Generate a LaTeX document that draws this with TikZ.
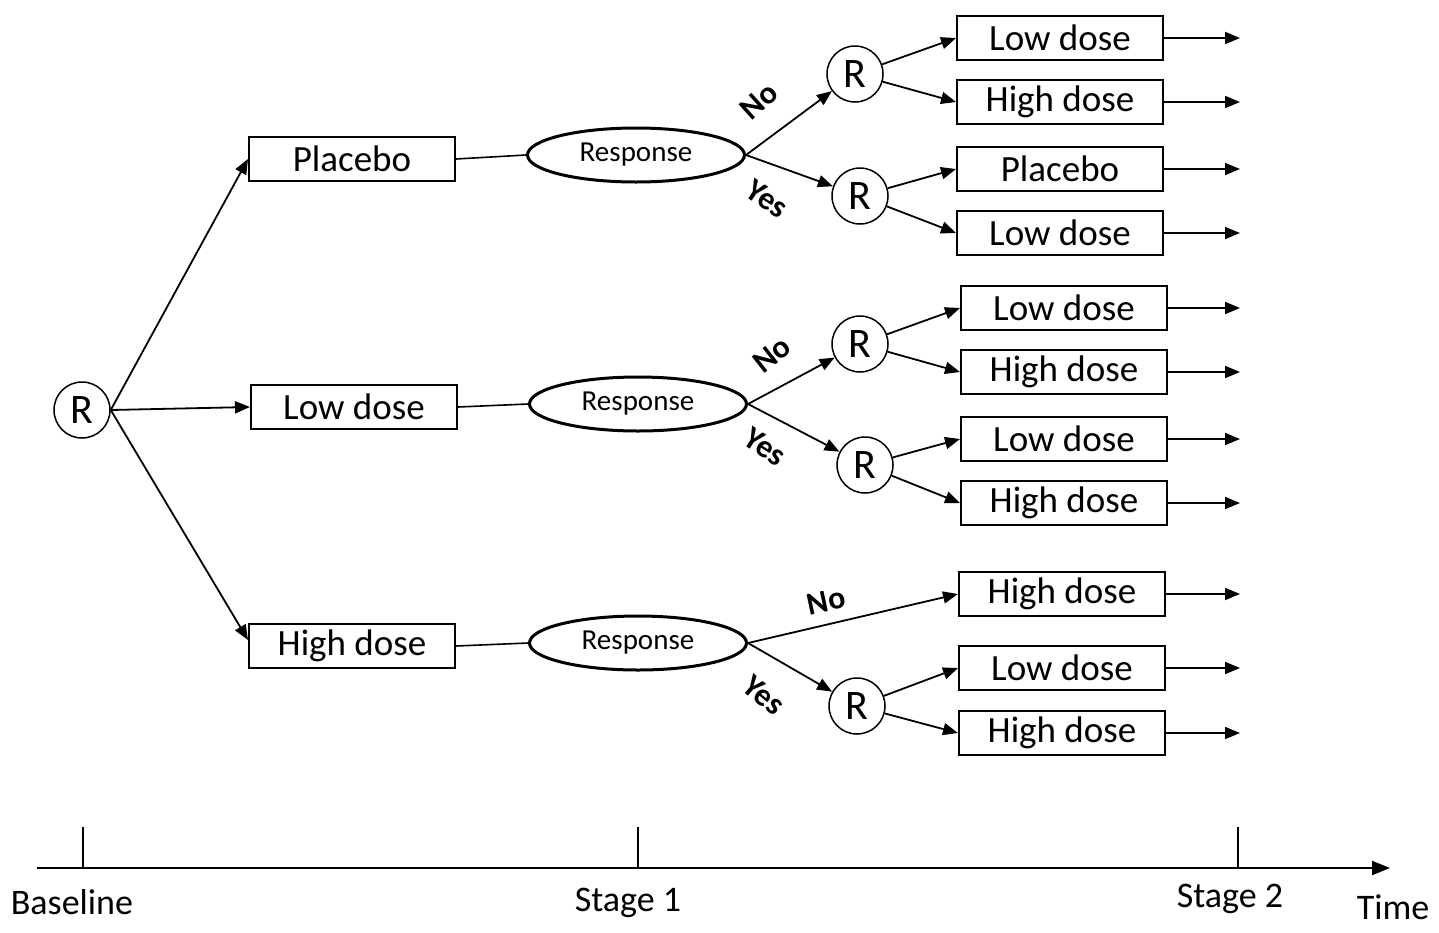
\documentclass[tikz,border=0pt]{standalone}
\usepackage{fontspec}
\setmainfont{Carlito}
\usetikzlibrary{shapes.geometric,arrows.meta,calc}
\begin{document}
\begin{tikzpicture}[x=1pt,y=-1pt,
  box/.style={draw,line width=2pt,minimum width=206pt,minimum height=44pt,inner sep=0pt,font=\fontsize{37}{39}\selectfont},
  rnode/.style={draw,circle,line width=1.5pt,minimum size=56pt,inner sep=0pt,font=\fontsize{42}{44}\selectfont},
  resp/.style={draw,ellipse,line width=3pt,minimum width=217pt,minimum height=54pt,inner sep=0pt,font=\fontsize{29}{31}\selectfont},
  arr/.style={line width=1.8pt,-{Triangle[length=15pt,width=12pt]}},
  plain/.style={line width=1.6pt},
  lab/.style={font=\fontsize{32}{34}\selectfont\bfseries},
  axlab/.style={font=\fontsize{36}{38}\selectfont}]
\useasboundingbox (0,0) rectangle (1439,932);
% level 0
\node[rnode] (R0) at (82,410) {R};
\node[box] (P1) at (352,159) {Placebo};
\node[box] (L1) at (354,407) {Low dose};
\node[box] (H1) at (352,646) {High dose};
\draw[arr] (R0.east) -- (P1.west);
\draw[arr] (R0.east) -- (L1.west);
\draw[arr] (R0.east) -- ($(H1.west)+(0,-6)$);
% responses
\node[resp] (E1) at (636,155) {Response};
\node[resp] (E2) at (638,404) {Response};
\node[resp] (E3) at (638,643) {Response};
\draw[plain] (P1.east) -- (E1.west);
\draw[plain] (L1.east) -- (E2.west);
\draw[plain] (H1.east) -- (E3.west);
% second randomisations
\node[rnode] (R1a) at (855,74) {R};
\node[rnode] (R1b) at (860,196) {R};
\node[rnode] (R2a) at (860,344) {R};
\node[rnode] (R2b) at (865,465) {R};
\node[rnode] (R3b) at (857,706) {R};
% final boxes
\node[box] (B1) at (1060,38) {Low dose};
\node[box] (B2) at (1060,102) {High dose};
\node[box] (B3) at (1060,169) {Placebo};
\node[box] (B4) at (1060,233) {Low dose};
\node[box] (B5) at (1064,308) {Low dose};
\node[box] (B6) at (1064,372) {High dose};
\node[box] (B7) at (1064,439) {Low dose};
\node[box] (B8) at (1064,503) {High dose};
\node[box] (B9) at (1062,594) {High dose};
\node[box] (B10) at (1062,668) {Low dose};
\node[box] (B11) at (1062,733) {High dose};
% response branches
\draw[arr] (E1.east) -- (R1a);
\draw[arr] (E1.east) -- (R1b);
\draw[arr] (E2.east) -- (R2a);
\draw[arr] (E2.east) -- (R2b);
\draw[arr] (E3.east) -- (B9.west);
\draw[arr] (E3.east) -- (R3b);
\node[lab,rotate=42] (n1) at (759,101) {No};
\node[lab,rotate=-33] (y1) at (767,199) {Yes};
\node[lab,rotate=38] (n2) at (772,355) {No};
\node[lab,rotate=-33] (y2) at (765,447) {Yes};
\node[lab,rotate=12] (n3) at (826,601) {No};
\node[lab,rotate=-40] (y3) at (764,695) {Yes};
% R to boxes
\draw[arr] (R1a) -- (B1.west);
\draw[arr] (R1a) -- (B2.west);
\draw[arr] (R1b) -- (B3.west);
\draw[arr] (R1b) -- (B4.west);
\draw[arr] (R2a) -- (B5.west);
\draw[arr] (R2a) -- (B6.west);
\draw[arr] (R2b) -- (B7.west);
\draw[arr] (R2b) -- (B8.west);
\draw[arr] (R3b) -- (B10.west);
\draw[arr] (R3b) -- (B11.west);
% outgoing arrows
\foreach \b in {B1,B2,B3,B4,B5,B6,B7,B8,B9,B10,B11}{
  \coordinate (\b e) at (1240,0);
  \draw[arr] (\b.east) -- (\b.east -| \b e);
}
% timeline
\coordinate (t0) at (37,868);
\coordinate (t1) at (1390,868);
\draw[line width=2pt,-{Triangle[length=18pt,width=14pt]}] (t0) -- (t1);
\coordinate (k0) at (83,827);
\coordinate (k1) at (638,827);
\coordinate (k2) at (1238,827);
\draw[line width=1.5pt] (k0) -- (k0 |- t0);
\draw[line width=1.5pt] (k1) -- (k1 |- t0);
\draw[line width=1.5pt] (k2) -- (k2 |- t0);
\node[axlab] (bl) at (72,902) {Baseline};
\node[axlab] (s1) at (628,903) {Stage 1};
\node[axlab] (s2) at (1230,899) {Stage 2};
\node[axlab] (tm) at (1393,907) {Time};
\end{tikzpicture}
\end{document}
